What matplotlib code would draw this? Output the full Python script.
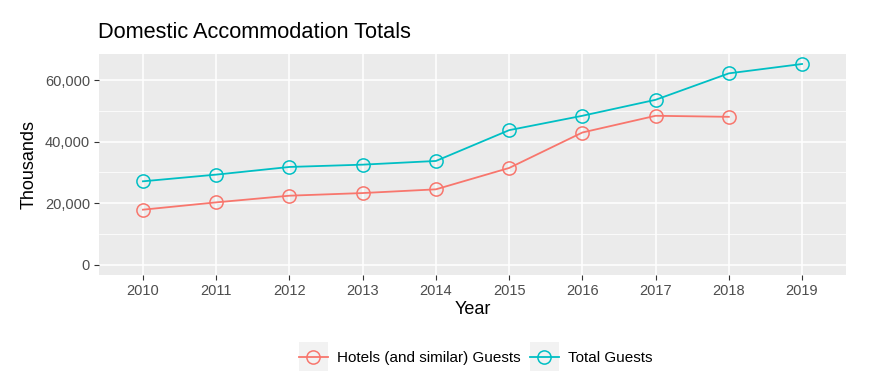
import matplotlib
matplotlib.use("Agg")
import matplotlib.pyplot as plt
from matplotlib.legend_handler import HandlerLine2D
from matplotlib.lines import Line2D
from matplotlib.patches import Rectangle
from matplotlib.ticker import FuncFormatter, MultipleLocator

plt.rcParams["font.family"] = ["Liberation Sans", "DejaVu Sans"]

years = [2010, 2011, 2012, 2013, 2014, 2015, 2016, 2017, 2018, 2019]
hotels = [17850, 20230, 22400, 23260, 24470, 31420, 42960, 48400, 48060]
total = [27080, 29260, 31750, 32500, 33700, 43720, 48400, 53600, 62200, 65250]
series_names = ["Hotels (and similar) Guests", "Total Guests"]
colors = ["#F8766D", "#00BFC4"]


class KeyHandler(HandlerLine2D):
    """line+point key drawn on a grey square, like ggplot legend keys."""
    def create_artists(self, legend, orig, xdescent, ydescent, width, height,
                       fontsize, trans):
        side = max(width, height)
        bg = Rectangle((-xdescent + (width - side) / 2, -ydescent + (height - side) / 2),
                       side, side, facecolor="#F2F2F2", edgecolor="none",
                       transform=trans)
        arts = super().create_artists(legend, orig, xdescent, ydescent, width,
                                      height, fontsize, trans)
        return [bg] + arts


fig = plt.figure(figsize=(8.81, 3.85), dpi=100)
ax = fig.add_axes([99 / 881, 1 - 275 / 385, 747 / 881, 221 / 385])
ax.set_facecolor("#EBEBEB")

x_pos = list(range(len(years)))
for vals, c in zip([hotels, total], colors):
    ax.plot(x_pos[:len(vals)], vals, color=c, lw=1.3, marker="o", ms=9.5,
            mfc="none", mec=c, mew=1.1, zorder=3)

ax.set_xlim(-0.6, len(years) - 1 + 0.6)
ax.set_ylim(-3400, 68500)
ax.set_xticks(x_pos)
ax.set_xticklabels([str(y) for y in years])
ax.yaxis.set_major_locator(MultipleLocator(20000))
ax.yaxis.set_minor_locator(MultipleLocator(10000))
ax.yaxis.set_major_formatter(FuncFormatter(lambda v, p: f"{int(v):,}"))
ax.grid(True, which="major", color="white", lw=1.1, zorder=0)
ax.grid(True, which="minor", axis="y", color="white", lw=0.55, zorder=0)
ax.set_axisbelow(True)
for s in ax.spines.values():
    s.set_visible(False)
ax.tick_params(which="major", length=3.5, width=0.8, color="#333333",
               labelcolor="#4D4D4D", labelsize=10.5, pad=3)
ax.tick_params(which="minor", length=0)

ax.set_xlabel("Year", fontsize=13, color="black", labelpad=2)
ax.set_ylabel("Thousands", fontsize=13, color="black", labelpad=5)
fig.text(98 / 881, 1 - 33 / 385, "Domestic Accommodation Totals", fontsize=15.7,
         ha="left", va="center")

handles = [Line2D([], [], color=c, lw=1.3, marker="o", ms=9.5, mfc="none",
                  mec=c, mew=1.1) for c in colors]
fig.legend(handles, series_names, loc="center", bbox_to_anchor=(0.54, 1 - 358 / 385),
           ncol=2, frameon=False, fontsize=11, handlelength=1.9, handletextpad=0.6,
           columnspacing=0.6, handler_map={Line2D: KeyHandler()})

fig.savefig("out.png", dpi=100, facecolor="white")
